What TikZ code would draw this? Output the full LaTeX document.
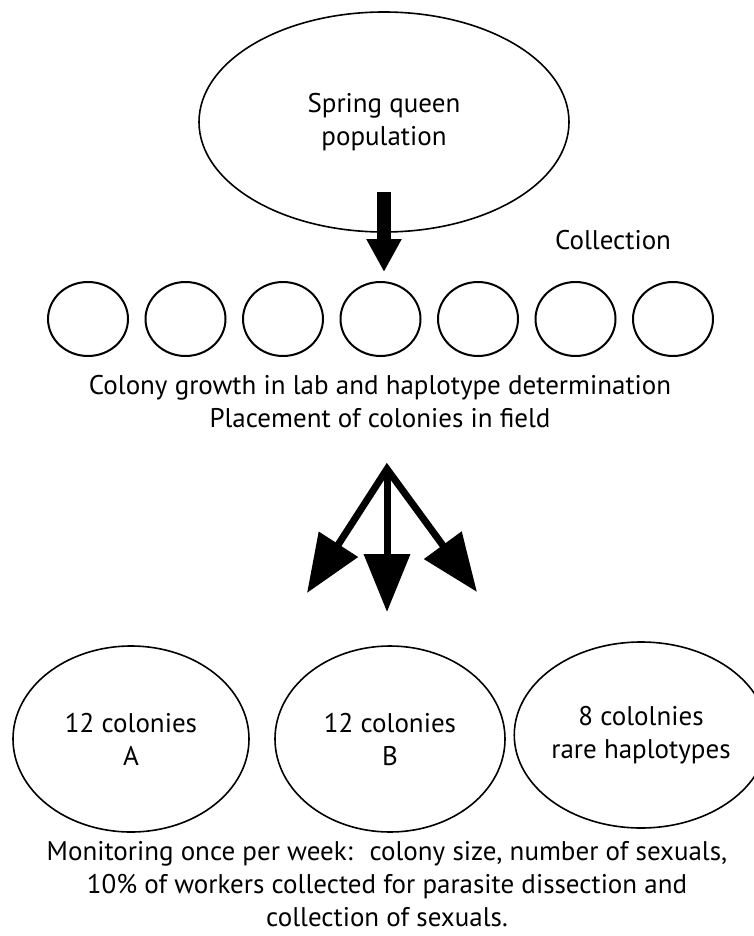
\documentclass[tikz,border=0pt]{standalone}
\usepackage{fontspec}
\setmainfont{PT Sans}
\usetikzlibrary{arrows.meta,shapes.geometric,positioning}

\begin{document}
\begin{tikzpicture}
    [x=1pt,y=1pt,node distance=97.5pt,on grid,
    every node/.style={font=\fontsize{27}{33}\selectfont},
    big oval/.style={ellipse,draw,line width=1.6pt,inner sep=0pt,align=center},
    small oval/.style={ellipse,draw,line width=2pt,minimum width=80pt,minimum height=74pt,inner sep=0pt},
    fat arrow/.style={line width=14pt,-{Triangle[length=33pt,width=33pt]}},
    thin arrow/.style={line width=7pt,>={Triangle[length=58pt,width=45pt]}}]
    \useasboundingbox (0,0) rectangle (754,-936);
    % 顶部的春季蚁后种群
    \node [big oval,minimum width=370pt,minimum height=220pt] (queen) at (384,-122) {Spring queen\\population};
    \node (collect) at (613,-240) {Collection};
    % 七个实验室蚁群
    \node [small oval] (c1) at (88,-319) {};
    \node [small oval] (c2) [right=of c1] {};
    \node [small oval] (c3) [right=of c2] {};
    \node [small oval] (c4) [right=of c3] {};
    \node [small oval] (c5) [right=of c4] {};
    \node [small oval] (c6) [right=of c5] {};
    \node [small oval] (c7) [right=of c6] {};
    \node [align=center] (growth) at (380,-402)
    {Colony growth in lab and haplotype determination\\Placement of colonies in field};
    \draw [fat arrow,shorten <=-41pt,shorten >=9pt] (queen.south) -- (queen.south |- c4.north);
    % 分成三组放到野外
    \coordinate (split) at (387,-469);
    \coordinate (tipA) at (307,-593);
    \coordinate (tipB) at (387,-612);
    \coordinate (tipC) at (477,-592);
    \draw [thin arrow,<->,line join=miter] (tipA) -- (split) -- (tipC);
    \draw [thin arrow,->] (split) -- (tipB);
    \node [big oval,minimum width=236pt,minimum height=186pt] (grpA) at (131,-739) {12 colonies\\A};
    \node [big oval,minimum width=230pt,minimum height=186pt] (grpB) at (390,-739) {12 colonies\\B};
    \node [big oval,minimum width=222pt,minimum height=186pt] (grpC) at (641,-735) {8 cololnies\\rare haplotypes};
    \node [align=center] (monitor) at (387,-884)
    {Monitoring once per week:~ colony size, number of sexuals,\\10\% of workers collected for parasite dissection and\\collection of sexuals.};
\end{tikzpicture}
\end{document}
